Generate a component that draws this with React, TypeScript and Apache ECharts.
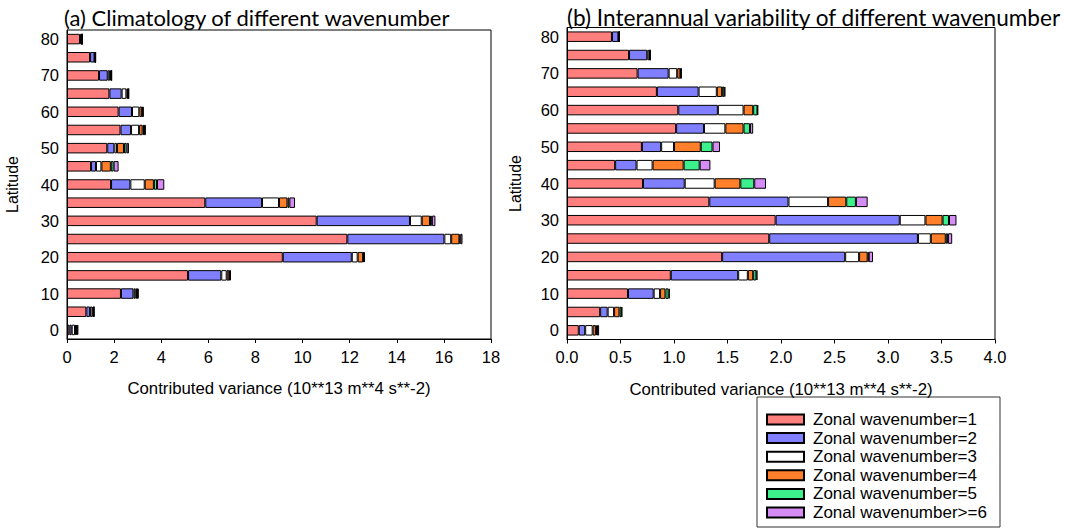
import React, { useEffect, useRef } from "react";
import * as echarts from "echarts";

const latitudes = ["0","5","10","15","20","25","30","35","40","45","50","55","60","65","70","75","80"];
const waveNames = ["Zonal wavenumber=1","Zonal wavenumber=2","Zonal wavenumber=3","Zonal wavenumber=4","Zonal wavenumber=5","Zonal wavenumber>=6"];
const waveColors = ["#ff7f7f","#7f7fff","#ffffff","#ff7f2a","#3cf08c","#d68cf5"];

// (a) Climatology, per latitude 0..80
const climW1 = [0.10,0.82,2.29,5.14,9.16,11.90,10.60,5.87,1.87,1.02,1.71,2.27,2.19,1.80,1.36,0.98,0.55];
const climW2 = [0.10,0.16,0.53,1.41,2.93,4.12,3.96,2.41,0.82,0.21,0.30,0.45,0.57,0.52,0.37,0.19,0.07];
const climW3 = [0.14,0.10,0.08,0.23,0.25,0.29,0.50,0.72,0.61,0.23,0.11,0.34,0.31,0.20,0.10,0.02,0.01];
const climW4 = [0.05,0.04,0.07,0.11,0.23,0.35,0.35,0.36,0.39,0.40,0.30,0.15,0.12,0.07,0.04,0.01,0.005];
const climW5 = [0.04,0.02,0.03,0.03,0.03,0.04,0.08,0.08,0.13,0.12,0.11,0.06,0.03,0.02,0.02,0.01,0.005];
const climW6 = [0.05,0.02,0.04,0.04,0.05,0.09,0.15,0.24,0.31,0.21,0.10,0.08,0.03,0.02,0.01,0.01,0.005];

// (b) Interannual variability, per latitude 0..80
const varW1 = [0.11,0.31,0.57,0.97,1.45,1.89,1.95,1.33,0.71,0.45,0.70,1.02,1.04,0.84,0.66,0.58,0.42];
const varW2 = [0.06,0.07,0.24,0.63,1.15,1.39,1.16,0.74,0.39,0.20,0.18,0.26,0.37,0.39,0.29,0.17,0.06];
const varW3 = [0.07,0.06,0.06,0.09,0.13,0.12,0.24,0.37,0.28,0.15,0.12,0.20,0.24,0.17,0.08,0.02,0.005];
const varW4 = [0.03,0.05,0.05,0.05,0.08,0.14,0.16,0.17,0.24,0.29,0.25,0.17,0.09,0.05,0.03,0.005,0.002];
const varW5 = [0.01,0.02,0.03,0.03,0.01,0.02,0.06,0.09,0.13,0.15,0.11,0.06,0.04,0.02,0.005,0.002,0.002];
const varW6 = [0.02,0.005,0.01,0.01,0.04,0.04,0.07,0.11,0.11,0.10,0.07,0.03,0.005,0.01,0.005,0.002,0.002];

const climData = [climW1, climW2, climW3, climW4, climW5, climW6];
const varData = [varW1, varW2, varW3, varW4, varW5, varW6];

const FONT = "Arial, 'Liberation Sans', sans-serif";

export default function App() {
  const ref = useRef<HTMLDivElement>(null);
  useEffect(() => {
    document.body.style.margin = "0";
    const chart = echarts.init(ref.current!, null, { renderer: "svg" });
    const mkSeries = (data: number[][], axisIdx: number, stack: string) =>
      data.map((vals, i) => ({
        name: waveNames[i],
        type: "bar",
        stack,
        xAxisIndex: axisIdx,
        yAxisIndex: axisIdx,
        barWidth: 10.5,
        data: vals,
        itemStyle: { color: waveColors[i], borderColor: "#000", borderWidth: 1 },
      }));
    const yAxisBase = (gridIndex: number, nameGap: number) => ({
      type: "category",
      gridIndex,
      data: latitudes,
      name: "Latitude",
      nameLocation: "middle",
      nameGap,
      nameTextStyle: { fontFamily: FONT, fontSize: 16, color: "#000" },
      axisLine: { lineStyle: { color: "#000" } },
      axisTick: { interval: 1, alignWithLabel: true, length: 5, lineStyle: { color: "#000" } },
      axisLabel: { interval: 1, fontFamily: FONT, fontSize: 16.5, color: "#000", margin: 8 },
    });
    const xAxisBase = (gridIndex: number, max: number, interval: number, fmt?: (v: number) => string) => ({
      type: "value",
      gridIndex,
      min: 0,
      max,
      interval,
      name: "Contributed variance (10**13 m**4 s**-2)",
      nameLocation: "middle",
      nameGap: 41,
      nameTextStyle: { fontFamily: FONT, fontSize: 16.8, color: "#000" },
      splitLine: { show: false },
      axisLine: { show: true, lineStyle: { color: "#000" } },
      axisTick: { show: true, length: 4, lineStyle: { color: "#000" } },
      axisLabel: { fontFamily: FONT, fontSize: 16.5, color: "#000", margin: 9, formatter: fmt },
    });
    chart.setOption({
      animation: false,
      backgroundColor: "#fff",
      grid: [
        { left: 67, top: 30, width: 424, height: 309, show: true, borderColor: "#000", borderWidth: 1 },
        { left: 567, top: 27.5, width: 428, height: 312, show: true, borderColor: "#000", borderWidth: 1 },
      ],
      xAxis: [
        xAxisBase(0, 18, 2),
        xAxisBase(1, 4, 0.5, (v: number) => v.toFixed(1)),
      ],
      yAxis: [yAxisBase(0, 47), yAxisBase(1, 44)],
      legend: {
        data: waveNames,
        orient: "vertical",
        left: 766,
        top: 411,
        itemWidth: 37,
        itemHeight: 10,
        itemGap: 1.6,
        icon: "rect",
        padding: 0,
        textStyle: { fontFamily: FONT, fontSize: 17, color: "#000", lineHeight: 16, padding: [0, 0, 0, 4] },
      },
      graphic: [
        {
          type: "rect",
          shape: { x: 757, y: 397, width: 243, height: 130 },
          style: { fill: "none", stroke: "#333", lineWidth: 1 },
          silent: true,
        },
        {
          type: "text",
          x: 64,
          y: 17,
          style: { text: "(a) Climatology of different wavenumber", font: "22px Lato, sans-serif", fill: "#000", textVerticalAlign: "middle" },
        },
        {
          type: "text",
          x: 567,
          y: 17,
          style: { text: "(b) Interannual variability of different wavenumber", font: "22.6px Lato, sans-serif", fill: "#000", textVerticalAlign: "middle" },
        },
      ],
      series: [...mkSeries(climData, 0, "a"), ...mkSeries(varData, 1, "b")],
    });
    return () => chart.dispose();
  }, []);
  return <div ref={ref} style={{ width: 1066, height: 532 }} />;
}
